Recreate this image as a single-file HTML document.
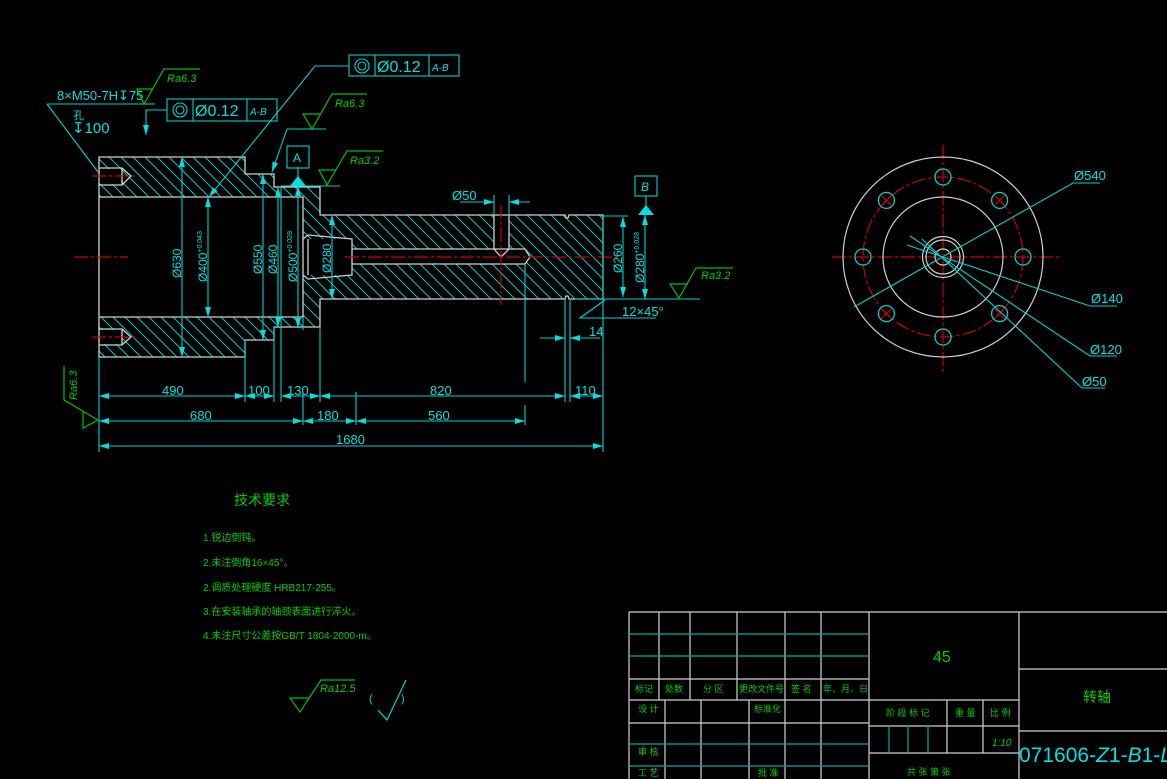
<!DOCTYPE html>
<html><head><meta charset="utf-8"><style>
html,body{margin:0;padding:0;background:#000;}
svg{display:block}
text{font-family:"Liberation Sans","Noto Sans CJK SC",sans-serif;}
</style></head><body>
<svg width="1167" height="779" viewBox="0 0 1167 779" xmlns="http://www.w3.org/2000/svg">
<defs>
<pattern id="h" patternUnits="userSpaceOnUse" width="12" height="12">
<path d="M0,0 L12,12 M-2,10 L2,14 M10,-2 L14,2" stroke="#00c8c8" stroke-width="1"/>
</pattern>
<marker id="a" viewBox="0 0 10 6" refX="10" refY="3" markerWidth="10" markerHeight="6" orient="auto-start-reverse" markerUnits="userSpaceOnUse">
<path d="M0,0 L10,3 L0,6 z" fill="#00e0e0"/>
</marker>
</defs>
<rect width="1167" height="779" fill="#000"/>

<path fill-rule="evenodd" fill="url(#h)" stroke="none" d="M99,157 L245,157 L245,174 L274,174 L274,187 L320,187 L320,215 L603,215 L603,299 L320,299 L320,327 L274,327 L274,340 L245,340 L245,357 L99,357 Z
M99,197 L303,197 L303,239 L352,239 L352,249 L494,249 L494,215 L509,215 L509,249 L525,249 L530,257 L525,264 L352,264 L352,275 L303,275 L303,317 L99,317 Z"/>
<g fill="none" stroke="#d0d0d0" stroke-width="1.3">
<path d="M99,157 L245,157 L245,174 L274,174 L274,187 L320,187 L320,215 L565,215 L566,218 L568,218 L569,215 L603,215 L603,299 L569,299 L568,296 L566,296 L565,299 L320,299 L320,327 L274,327 L274,340 L245,340 L245,357 L99,357 Z"/>
<path d="M99,197 L303,197 L303,317 L99,317"/>
<path d="M303,239 L308,235 L352,239 L352,275 L308,279 L303,275 M308,239 L308,275 M352,239 L352,275 M352,249 L525,249 L530,257 L525,264 L352,264 M494,215 L494,249 L501,257 L509,249 L509,215"/>
</g>
<rect x="100" y="169" width="21" height="15" fill="#000"/>
<rect x="100" y="330" width="21" height="14" fill="#000"/>
<g stroke="#d0d0d0" fill="none" stroke-width="1.3"><path d="M99,168 L122,168 L131,176 L122,185 L99,185 M122,168 L122,185 M99,329 L122,329 L131,337 L122,345 L99,345 M122,329 L122,345"/></g>

<g stroke="#d00000" stroke-width="1.2" stroke-dasharray="14,3,3,3" fill="none">
<path d="M74,257 L128,257 M345,257 L620,257 M92,176 L138,176 M92,337 L138,337 M501,205 L501,305"/>
<path d="M832,257 L1060,257 M943,145 L943,375"/>
<circle cx="943" cy="257" r="80"/>
</g>

<g stroke="#00d0d0" stroke-width="1.1" fill="none">
<path d="M99,357 L99,452 M245,340 L245,402 M274,327 L274,402 M281,187 L281,402 M303,317 L303,330 M303,392 L303,425 M320,327 L320,402 M356,392 L356,425 M525,264 L525,382 M525,405 L525,425 M565,299 L565,402 M570,299 L570,402 M603,299 L603,452"/>
<path d="M99,396 L245,396" marker-start="url(#a)" marker-end="url(#a)"/>
<path d="M245,396 L274,396" marker-start="url(#a)" marker-end="url(#a)"/>
<path d="M281,396 L320,396" marker-start="url(#a)" marker-end="url(#a)"/>
<path d="M320,396 L565,396" marker-start="url(#a)" marker-end="url(#a)"/>
<path d="M570,396 L603,396" marker-start="url(#a)" marker-end="url(#a)"/>
<path d="M99,421 L303,421" marker-start="url(#a)" marker-end="url(#a)"/>
<path d="M303,421 L356,421" marker-start="url(#a)" marker-end="url(#a)"/>
<path d="M356,421 L525,421" marker-start="url(#a)" marker-end="url(#a)"/>
<path d="M99,446 L603,446" marker-start="url(#a)" marker-end="url(#a)"/>
<path d="M182,157 L182,357" marker-start="url(#a)" marker-end="url(#a)"/>
<path d="M208,197 L208,317" marker-start="url(#a)" marker-end="url(#a)"/>
<path d="M263,174 L263,340" marker-start="url(#a)" marker-end="url(#a)"/>
<path d="M278,187 L278,327" marker-start="url(#a)" marker-end="url(#a)"/>
<path d="M298,186 L298,328" marker-start="url(#a)" marker-end="url(#a)"/>
<path d="M332,215 L332,299" marker-start="url(#a)" marker-end="url(#a)"/>
<path d="M623,217 L623,297" marker-start="url(#a)" marker-end="url(#a)"/>
<path d="M645,215 L645,299" marker-start="url(#a)" marker-end="url(#a)"/>
<path d="M603,216 L628,216 M575,299 L700,299 M603,217 L603,299"/>
<path d="M460,202 L494,202" marker-end="url(#a)"/>
<path d="M530,202 L509,202" marker-end="url(#a)"/>
<path d="M494,195 L494,215 M509,195 L509,215"/>
<path d="M605,300 L580,318 L656,318"/>
<path d="M540,338 L565,338" marker-end="url(#a)"/>
<path d="M600,338 L570,338" marker-end="url(#a)"/>
<path d="M47,104 L155,104 M47,104 L98,172"/>
<path d="M167,110 L146,110 L146,135" marker-end="url(#a)"/>
<path d="M349,66 L315,66 L209,197" marker-end="url(#a)"/>
<path d="M287,129 L326,129 M287,129 L272,172" marker-end="url(#a)"/>
<path d="M281,186 L340,186"/>
<path d="M298,167 L298,178"/>
<rect x="167" y="99" width="110" height="22"/><path d="M193,99 L193,121 M247,99 L247,121"/>
<rect x="349" y="55" width="110" height="21"/><path d="M375,55 L375,76 M429,55 L429,76"/>
<rect x="287" y="146" width="22" height="22"/>
<rect x="635" y="176" width="22" height="20"/>
<path d="M646,196 L646,206"/>
<circle cx="180" cy="110" r="7"/><circle cx="180" cy="110" r="4"/>
<circle cx="362" cy="66" r="7"/><circle cx="362" cy="66" r="4"/>
</g>
<path d="M290,186 L306,186 L298,176 Z" fill="#00e0e0"/>
<path d="M638,215 L654,215 L646,205 Z" fill="#00e0e0"/>

<g fill="#00e0e0" font-size="13">
<text x="162" y="395">490</text><text x="248" y="395">100</text><text x="287" y="395">130</text><text x="430" y="395">820</text><text x="575" y="395">110</text>
<text x="190" y="420">680</text><text x="317" y="420">180</text><text x="428" y="420">560</text><text x="336" y="444">1680</text>
<text x="57" y="100" font-size="13">8×M50-7H↧75</text>
<text x="73" y="119" font-size="11">孔</text>
<text x="72" y="133" font-size="15">↧100</text>
<text x="195" y="116" font-size="16">Ø0.12</text><text x="250" y="115" font-size="10" font-style="italic">A-B</text>
<text x="377" y="72" font-size="16">Ø0.12</text><text x="432" y="71" font-size="10" font-style="italic">A-B</text>
<text x="293" y="162" font-size="12">A</text>
<text x="641" y="191" font-size="12" font-style="italic">B</text>
<text x="452" y="200" font-size="13">Ø50</text>
<text x="622" y="316" font-size="13">12×45°</text>
<text x="589" y="336" font-size="13">14</text>
<text transform="translate(181,278) rotate(-90)" font-size="12">Ø630</text>
<text transform="translate(207,282) rotate(-90)" font-size="12">Ø400<tspan font-size="7" dy="-5">+0.043</tspan></text>
<text transform="translate(262,274) rotate(-90)" font-size="12">Ø550</text>
<text transform="translate(277,274) rotate(-90)" font-size="12">Ø460</text>
<text transform="translate(297,282) rotate(-90)" font-size="12">Ø500<tspan font-size="7" dy="-5">+0.028</tspan></text>
<text transform="translate(331,273) rotate(-90)" font-size="12">Ø280</text>
<text transform="translate(622,273) rotate(-90)" font-size="12">Ø260</text>
<text transform="translate(644,283) rotate(-90)" font-size="12">Ø280<tspan font-size="7" dy="-5">+0.028</tspan></text>
</g>

<g stroke="#00c000" stroke-width="1.2" fill="none">
<path d="M153,89 L137,89 L144,104 L164,69 L200,69"/>
<path d="M321,114 L303,114 L312,129 L332,94 L367,94"/>
<path d="M336,170 L319,170 L327,185 L347,151 L383,151"/>
<path d="M688,284 L670,284 L679,298 L696,268 L733,268"/>
<path d="M64,366 L64,400 L98,420 M83,412 L83,428 L98,420"/>
<path d="M309,698 L290,698 L300,712 L321,680 L355,680"/>
</g>
<g fill="#00d000" font-size="11" font-style="italic">
<text x="167" y="82">Ra6.3</text><text x="335" y="107">Ra6.3</text><text x="350" y="164">Ra3.2</text><text x="701" y="279">Ra3.2</text>
<text transform="translate(77,400) rotate(-90)">Ra6.3</text>
<text x="320" y="692">Ra12.5</text>
</g>
<g stroke="#00d0d0" stroke-width="1.2" fill="none"><path d="M378,710 L387,720 L406,680"/></g>
<text x="369" y="702" fill="#00d0d0" font-size="11">(</text><text x="401" y="702" fill="#00d0d0" font-size="11">)</text>

<g fill="#00d000">
<text x="234" y="505" font-size="14">技术要求</text>
<text x="203" y="541" font-size="10">1.锐边倒钝。</text>
<text x="203" y="566" font-size="10">2.未注倒角16×45°。</text>
<text x="203" y="591" font-size="10">2.调质处理硬度 HRB217-255。</text>
<text x="203" y="615" font-size="10">3.在安装轴承的轴颈表面进行淬火。</text>
<text x="203" y="639" font-size="10">4.未注尺寸公差按GB/T 1804-2000-m。</text>
</g>

<g fill="none" stroke="#d0d0d0" stroke-width="1.2">
<circle cx="943" cy="257" r="100"/><circle cx="943" cy="257" r="60"/>
<circle cx="943" cy="257" r="20.5"/><circle cx="943" cy="257" r="17"/><circle cx="943" cy="257" r="8"/>
</g>
<g fill="none" stroke="#00d0d0" stroke-width="1.3">
<circle cx="943" cy="177" r="8"/><circle cx="943" cy="337" r="8"/><circle cx="863" cy="257" r="8"/><circle cx="1023" cy="257" r="8"/>
<circle cx="886.4" cy="200.4" r="8"/><circle cx="999.6" cy="200.4" r="8"/><circle cx="886.4" cy="313.6" r="8"/><circle cx="999.6" cy="313.6" r="8"/>
</g>
<g stroke="#d00000" stroke-width="1.2">
<path d="M881,195 L892,206 M892,195 L881,206 M994,195 L1005,206 M1005,195 L994,206 M881,308 L892,319 M892,308 L881,319 M994,308 L1005,319 M1005,308 L994,319"/>
</g>
<g stroke="#00d0d0" stroke-width="1.1" fill="none">
<path d="M854,307 L1073,183 L1100,183"/>
<path d="M910,236 L1090,356 L1117,356"/>
<path d="M907,245 L1090,306 L1117,306"/>
<path d="M922,239 L1082,388 L1105,388"/>
</g>
<g fill="#00e0e0" font-size="13">
<text x="1074" y="180">Ø540</text><text x="1091" y="303">Ø140</text><text x="1090" y="354">Ø120</text><text x="1082" y="386">Ø50</text>
</g>

<g stroke="#d0d0d0" stroke-width="1.2" fill="none">
<path d="M629,612 L1167,612 M629,612 L629,779 M869,612 L869,779 M1019,612 L1019,779"/>
<path d="M659,612 L659,700 M690,612 L690,700 M737,612 L737,700 M785,612 L785,779 M821,612 L821,779"/>
<path d="M665,700 L665,779 M701,700 L701,779 M749,700 L749,779"/>
<path d="M629,679 L869,679 M629,700 L1019,700 M629,723 L869,723"/>
<path d="M1019,669 L1167,669 M1019,731 L1167,731 M869,726 L1019,726 M869,753 L1019,753 M947,700 L947,753 M983,700 L983,753"/>
</g>
<g stroke="#00a8a8" stroke-width="1.2">
<path d="M629,634 L869,634 M629,656 L869,656 M629,744 L869,744 M629,766 L869,766 M889,726 L889,753 M908,726 L908,753 M928,726 L928,753"/>
</g>
<g fill="#00d000" font-size="9">
<text x="635" y="692">标记</text><text x="665" y="692">处数</text><text x="703" y="692">分 区</text><text x="739" y="692">更改文件号</text><text x="791" y="692">签 名</text><text x="823" y="692">年、月、日</text>
<text x="638" y="712">设 计</text><text x="754" y="712">标准化</text><text x="638" y="755">审 核</text><text x="638" y="776">工 艺</text><text x="758" y="776">批 准</text>
<text x="886" y="716">阶 段 标 记</text><text x="955" y="716">重 量</text><text x="990" y="716">比 例</text>
<text x="907" y="775">共  张    第  张</text>
<text x="933" y="662" font-size="16">45</text>
<text x="1083" y="702" font-size="14">转轴</text>
<text x="992" y="746" font-size="10" font-style="italic">1:10</text>
</g>
<text x="1019" y="762" fill="#00e0e0" font-size="21">071606-<tspan font-style="italic">Z</tspan>1-<tspan font-style="italic">B</tspan>1-<tspan font-style="italic">L</tspan>9</text>
</svg>
</body></html>
